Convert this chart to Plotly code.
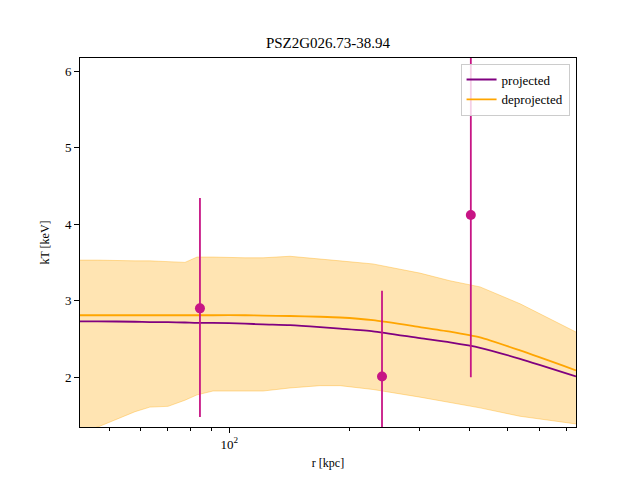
import plotly.graph_objects as go

# radius grid (kpc)
r_grid = [42.2, 46.8, 58.0, 63.2, 70.2, 77.4, 83.0, 91.0, 109.5, 121.5, 142.0,
          168.9, 189.6, 229.4, 300.8, 357.8, 425.6, 536.2, 741.0]
band_upper = [3.53, 3.53, 3.52, 3.52, 3.51, 3.50, 3.57, 3.57, 3.56, 3.56, 3.58,
              3.54, 3.52, 3.48, 3.36, 3.26, 3.18, 2.96, 2.59]
band_lower = [1.30, 1.35, 1.55, 1.61, 1.62, 1.70, 1.77, 1.82, 1.82, 1.82, 1.86,
              1.89, 1.89, 1.84, 1.74, 1.67, 1.60, 1.49, 1.39]
kt_deprojected = [2.81, 2.81, 2.81, 2.81, 2.81, 2.81, 2.81, 2.81, 2.81, 2.805, 2.80,
                  2.79, 2.78, 2.745, 2.655, 2.595, 2.52, 2.35, 2.09]
kt_projected = [2.73, 2.73, 2.725, 2.72, 2.72, 2.715, 2.71, 2.71, 2.70, 2.69, 2.68,
                2.655, 2.635, 2.60, 2.51, 2.455, 2.385, 2.24, 2.01]

# data points
r_obs = [84.4, 241.6, 403.6]
kt_obs = [2.90, 2.01, 4.12]
err_plus = [1.44, 1.12, 2.12]
err_minus = [1.42, 1.12, 2.12]

title = "PSZ2G026.73-38.94"
font_family = "Liberation Serif, DejaVu Serif, serif"

fig = go.Figure()
fig.add_trace(go.Scatter(x=r_grid, y=band_upper, mode="lines",
                         line=dict(color="rgba(255,165,0,0.35)", width=1),
                         showlegend=False, hoverinfo="skip"))
fig.add_trace(go.Scatter(x=r_grid, y=band_lower, mode="lines",
                         line=dict(color="rgba(255,165,0,0.35)", width=1),
                         fill="tonexty", fillcolor="rgba(255,165,0,0.3)",
                         showlegend=False, hoverinfo="skip"))
fig.add_trace(go.Scatter(x=r_grid, y=kt_projected, mode="lines", name="projected",
                         line=dict(color="#800080", width=1.8, shape="spline", smoothing=0.6)))
fig.add_trace(go.Scatter(x=r_grid, y=kt_deprojected, mode="lines", name="deprojected",
                         line=dict(color="#FFA500", width=1.8, shape="spline", smoothing=0.6)))
fig.add_trace(go.Scatter(x=r_obs, y=kt_obs, mode="markers", showlegend=False,
                         marker=dict(color="#C71585", size=10),
                         error_y=dict(type="data", array=err_plus, arrayminus=err_minus,
                                      color="#C71585", thickness=1.8, width=0)))

axis_common = dict(showline=True, linecolor="black", linewidth=1, mirror=True,
                   ticks="outside", tickcolor="black", showgrid=False, zeroline=False,
                   tickfont=dict(size=13, color="black", family=font_family))

fig.update_xaxes(type="log", range=[1.6254, 2.8698],
                 tickmode="array", tickvals=[100], ticktext=["10<sup>2</sup>"], ticklen=5,
                 minor=dict(tickmode="array",
                            tickvals=[50, 60, 70, 80, 90, 200, 300, 400, 500, 600, 700],
                            ticks="outside", ticklen=3, tickcolor="black", showgrid=False),
                 title=dict(text="r [kpc]", font=dict(size=12, family=font_family, color="black"),
                            standoff=8),
                 **axis_common)
fig.update_yaxes(range=[1.35, 6.17], tickmode="array", tickvals=[2, 3, 4, 5, 6], ticklen=5,
                 title=dict(text="kT [keV]", font=dict(size=12, family=font_family, color="black"),
                            standoff=12),
                 **axis_common)

fig.update_layout(
    width=640, height=480,
    margin=dict(l=80, r=64, t=58, b=53),
    paper_bgcolor="white", plot_bgcolor="white",
    title=dict(text=title, x=0.5125, xanchor="center", y=0.91, yanchor="middle",
               font=dict(size=15, family=font_family, color="black")),
    font=dict(family=font_family, color="black"),
    legend=dict(x=0.987, y=0.985, xanchor="right", yanchor="top", traceorder="normal",
                bgcolor="rgba(255,255,255,0.8)", bordercolor="#cccccc", borderwidth=1,
                font=dict(size=13, family=font_family, color="black"),
                tracegroupgap=0),
)

fig.write_html("out.html")
